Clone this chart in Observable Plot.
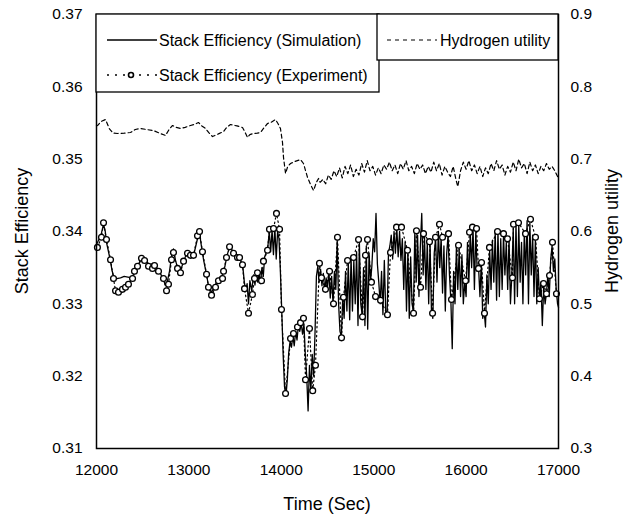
<!DOCTYPE html>
<html><head><meta charset="utf-8">
<script src="https://cdn.jsdelivr.net/npm/d3@7"></script>
<script src="https://cdn.jsdelivr.net/npm/@observablehq/plot@0.6"></script>
<style>body{margin:0;background:#fff}svg{display:block}</style>
</head><body><div id="chart"></div>
<script>
// ---- data (time in s, stack efficiency / hydrogen utility) ----
const simulation = [
[12000,0.3382],[12030,0.3390],[12054,0.3398],[12076,0.3410],[12095,0.3400],[12108,0.3385],[12130,0.3372],[12152,0.3358],[12170,0.3345],[12190,0.3336],
[12220,0.3335],[12260,0.3336],[12300,0.3338],[12340,0.3337],[12380,0.3336],[12411,0.3342],[12444,0.3352],[12470,0.3358],[12487,0.3364],[12520,0.3362],
[12550,0.3357],[12580,0.3354],[12610,0.3356],[12640,0.3352],[12671,0.3346],[12700,0.3340],[12725,0.3333],[12745,0.3326],[12765,0.3330],[12790,0.3345],
[12812,0.3366],[12833,0.3376],[12855,0.3360],[12877,0.3350],[12909,0.3346],[12942,0.3358],[12970,0.3368],[12995,0.3368],[13030,0.3366],[13060,0.3372],
[13093,0.3390],[13115,0.3398],[13135,0.3380],[13160,0.3360],[13191,0.3340],[13212,0.3325],[13245,0.3316],[13270,0.3322],[13300,0.3330],[13330,0.3336],
[13364,0.3340],[13390,0.3352],[13415,0.3368],[13440,0.3378],[13470,0.3374],[13500,0.3368],[13530,0.3366],[13555,0.3360],[13580,0.3356],[13600,0.3330],
[13615,0.3318],[13630,0.3328],[13645,0.3300],[13660,0.3332],[13680,0.3318],[13700,0.3340],[13715,0.3326],[13730,0.3345],[13745,0.3330],[13760,0.3342],
[13775,0.3328],[13790,0.3350],[13805,0.3338],[13820,0.3365],[13840,0.3372],[13855,0.3380],[13870,0.3400],[13885,0.3372],[13900,0.3402],[13915,0.3368],
[13930,0.3405],[13945,0.3362],[13960,0.3400],[13975,0.3390],[13990,0.3345],[14005,0.3290],[14020,0.3230],[14035,0.3185],[14050,0.3172],[14065,0.3195],
[14080,0.3232],[14095,0.3248],[14110,0.3240],[14125,0.3256],[14140,0.3242],[14155,0.3262],[14170,0.3250],[14185,0.3270],[14200,0.3262],[14215,0.3274],
[14230,0.3258],[14245,0.3272],[14260,0.3230],[14275,0.3200],[14290,0.3152],[14305,0.3215],[14320,0.3180],[14335,0.3230],[14350,0.3200],[14365,0.3260],
[14380,0.3338],[14395,0.3352],[14410,0.3330],[14425,0.3348],[14440,0.3325],[14455,0.3342],[14470,0.3318],[14485,0.3336],[14500,0.3322],[14515,0.3346],
[14530,0.3308],[14545,0.3338],[14560,0.3300],[14575,0.3345],[14590,0.3320],[14605,0.3388],[14620,0.3300],[14635,0.3262],[14650,0.3255],[14665,0.3310],
[14680,0.3280],[14695,0.3345],[14710,0.3290],[14725,0.3358],[14740,0.3278],[14755,0.3365],[14770,0.3290],[14785,0.3360],[14800,0.3300],[14815,0.3372],
[14830,0.3270],[14845,0.3385],[14860,0.3300],[14875,0.3285],[14890,0.3350],[14905,0.3270],[14920,0.3380],[14935,0.3265],[14950,0.3370],[14965,0.3330],
[14980,0.3352],[14995,0.3390],[15010,0.3372],[15025,0.3425],[15040,0.3355],[15055,0.3330],[15070,0.3300],[15085,0.3345],[15100,0.3285],[15115,0.3360],
[15130,0.3290],[15145,0.3285],[15160,0.3370],[15175,0.3380],[15190,0.3395],[15205,0.3362],[15220,0.3400],[15235,0.3370],[15250,0.3405],[15265,0.3365],
[15280,0.3400],[15295,0.3360],[15310,0.3390],[15325,0.3320],[15340,0.3385],[15355,0.3290],[15370,0.3372],[15385,0.3280],[15400,0.3365],[15415,0.3300],
[15430,0.3290],[15445,0.3400],[15460,0.3330],[15475,0.3395],[15490,0.3310],[15505,0.3380],[15520,0.3425],[15535,0.3340],[15550,0.3392],[15565,0.3320],
[15580,0.3385],[15595,0.3300],[15610,0.3385],[15625,0.3290],[15640,0.3280],[15655,0.3370],[15670,0.3390],[15685,0.3330],[15700,0.3400],[15715,0.3350],
[15730,0.3392],[15745,0.3315],[15760,0.3380],[15775,0.3290],[15790,0.3370],[15805,0.3395],[15820,0.3340],[15835,0.3305],[15850,0.3238],[15865,0.3345],
[15880,0.3300],[15895,0.3378],[15910,0.3320],[15925,0.3375],[15940,0.3310],[15955,0.3368],[15970,0.3300],[15985,0.3330],[16000,0.3310],[16015,0.3385],
[16030,0.3330],[16045,0.3400],[16060,0.3350],[16075,0.3405],[16090,0.3320],[16105,0.3400],[16120,0.3345],[16135,0.3350],[16150,0.3310],[16165,0.3360],
[16180,0.3280],[16195,0.3290],[16210,0.3268],[16225,0.3340],[16240,0.3300],[16255,0.3375],[16270,0.3320],[16285,0.3388],[16300,0.3330],[16315,0.3400],
[16330,0.3305],[16345,0.3400],[16360,0.3310],[16375,0.3390],[16390,0.3320],[16405,0.3395],[16420,0.3340],[16435,0.3385],[16450,0.3320],[16465,0.3390],
[16480,0.3300],[16495,0.3340],[16510,0.3405],[16525,0.3300],[16540,0.3412],[16555,0.3310],[16570,0.3410],[16585,0.3330],[16600,0.3385],[16615,0.3300],
[16630,0.3400],[16645,0.3340],[16660,0.3415],[16675,0.3300],[16690,0.3412],[16705,0.3340],[16720,0.3395],[16735,0.3310],[16750,0.3390],[16765,0.3300],
[16780,0.3350],[16795,0.3305],[16810,0.3330],[16825,0.3270],[16840,0.3325],[16855,0.3300],[16870,0.3315],[16885,0.3340],[16900,0.3310],[16915,0.3360],
[16930,0.3380],[16945,0.3345],[16960,0.3362],[16975,0.3320],[16990,0.3300],[17000,0.3295]
];
const experiment = [
[12010,0.3378],[12054,0.3392],[12076,0.3412],[12108,0.3389],[12152,0.3361],[12184,0.3335],[12206,0.3318],[12238,0.3316],[12281,0.3320],[12314,0.3323],
[12346,0.3327],[12390,0.3335],[12411,0.3345],[12444,0.3352],[12487,0.3363],[12520,0.3360],[12563,0.3352],[12606,0.3349],[12628,0.3353],[12671,0.3345],
[12725,0.3335],[12758,0.3318],[12779,0.3327],[12812,0.3361],[12833,0.3371],[12877,0.3349],[12909,0.3343],[12942,0.3359],[12985,0.3370],[13017,0.3367],
[13050,0.3367],[13093,0.3394],[13115,0.3400],[13147,0.3372],[13191,0.3341],[13212,0.3323],[13245,0.3312],[13288,0.3323],[13320,0.3332],[13364,0.3335],
[13375,0.3345],[13407,0.3364],[13440,0.3379],[13483,0.3370],[13526,0.3364],[13548,0.3364],[13580,0.3354],[13602,0.3321],[13645,0.3287],[13688,0.3313],
[13710,0.3335],[13742,0.3343],[13786,0.3332],[13807,0.3359],[13851,0.3374],[13872,0.3403],[13916,0.3404],[13948,0.3425],[13981,0.3403],[14002,0.3292],
[14046,0.3176],[14100,0.3252],[14132,0.3259],[14175,0.3268],[14208,0.3274],[14240,0.3280],[14262,0.3195],[14305,0.3266],[14340,0.3180],[14370,0.3215],
[14413,0.3356],[14435,0.3336],[14478,0.3320],[14522,0.3345],[14565,0.3300],[14608,0.3392],[14652,0.3253],[14673,0.3309],[14717,0.3360],[14782,0.3364],
[14836,0.3389],[14879,0.3282],[14911,0.3367],[14933,0.3389],[14976,0.3330],[15020,0.3310],[15074,0.3305],[15149,0.3285],[15182,0.3371],[15247,0.3406],
[15301,0.3406],[15366,0.3374],[15431,0.3287],[15463,0.3401],[15507,0.3323],[15539,0.3397],[15604,0.3386],[15637,0.3287],[15669,0.3392],[15712,0.3410],
[15745,0.3392],[15810,0.3397],[15842,0.3306],[15918,0.3381],[15994,0.3332],[16037,0.3399],[16069,0.3406],[16113,0.3404],[16134,0.3349],[16167,0.3357],
[16199,0.3287],[16253,0.3378],[16340,0.3400],[16405,0.3397],[16448,0.3390],[16502,0.3336],[16513,0.3410],[16567,0.3412],[16643,0.3397],[16697,0.3417],
[16751,0.3392],[16794,0.3307],[16838,0.3328],[16870,0.3314],[16903,0.3339],[16935,0.3385],[16978,0.3314]
];
const hydrogen = [
[12000,0.746],[12011,0.7465],[12050,0.752],[12097,0.7548],[12140,0.742],[12180,0.736],[12227,0.7355],[12300,0.736],[12368,0.7369],[12420,0.741],
[12476,0.7424],[12540,0.741],[12617,0.7396],[12680,0.736],[12747,0.7327],[12790,0.742],[12823,0.7465],[12860,0.744],[12909,0.7424],[12960,0.744],
[13017,0.7465],[13060,0.748],[13104,0.7507],[13140,0.746],[13180,0.7424],[13220,0.736],[13255,0.7313],[13320,0.735],[13375,0.7382],[13410,0.744],
[13450,0.7479],[13520,0.746],[13580,0.7438],[13605,0.738],[13634,0.7300],[13660,0.734],[13699,0.7355],[13740,0.736],[13775,0.7369],[13810,0.743],
[13851,0.7493],[13890,0.751],[13937,0.7548],[13965,0.749],[13991,0.7424],[14013,0.7230],[14024,0.7023],[14046,0.6802],[14070,0.690],[14100,0.6940],
[14150,0.697],[14208,0.6995],[14240,0.6940],[14284,0.6747],[14320,0.664],[14349,0.6567],[14380,0.668],[14403,0.6733],[14420,0.668],[14450,0.672],
[14480,0.666],[14510,0.678],[14540,0.672],[14570,0.684],[14600,0.676],[14630,0.688],[14660,0.674],[14690,0.690],[14720,0.680],[14750,0.692],
[14780,0.676],[14810,0.686],[14840,0.678],[14870,0.694],[14900,0.682],[14930,0.698],[14960,0.684],[14990,0.690],[15020,0.678],[15050,0.688],
[15080,0.680],[15110,0.692],[15140,0.686],[15170,0.696],[15200,0.684],[15230,0.692],[15260,0.680],[15290,0.694],[15320,0.686],[15350,0.698],
[15380,0.684],[15410,0.690],[15440,0.680],[15470,0.694],[15500,0.686],[15530,0.692],[15560,0.680],[15590,0.690],[15620,0.682],[15650,0.696],
[15680,0.684],[15710,0.694],[15740,0.678],[15770,0.690],[15800,0.682],[15830,0.676],[15860,0.690],[15890,0.672],[15910,0.662],[15940,0.684],
[15970,0.696],[16000,0.686],[16030,0.698],[16060,0.684],[16090,0.692],[16120,0.680],[16150,0.690],[16180,0.676],[16210,0.688],[16240,0.680],
[16270,0.694],[16300,0.684],[16330,0.698],[16360,0.686],[16390,0.692],[16420,0.678],[16450,0.690],[16480,0.682],[16510,0.696],[16540,0.684],
[16570,0.700],[16600,0.688],[16630,0.694],[16660,0.680],[16690,0.696],[16720,0.684],[16750,0.692],[16780,0.680],[16810,0.690],[16840,0.684],
[16870,0.694],[16900,0.686],[16930,0.690],[16960,0.684],[16990,0.676],[17000,0.675]
];
const xTicks = [12000, 13000, 14000, 15000, 16000, 17000];
const leftTicks = [0.31, 0.32, 0.33, 0.34, 0.35, 0.36, 0.37];
const rightTicks = [0.3, 0.4, 0.5, 0.6, 0.7, 0.8, 0.9];
const leftDomain = [0.31, 0.37];
const rightDomain = [0.3, 0.9];
const seriesNames = ["Stack Efficiency (Simulation)", "Stack Efficiency (Experiment)", "Hydrogen utility"];

// map right-axis values onto the left scale
const toLeft = h => leftDomain[0] + (h - rightDomain[0]) / (rightDomain[1] - rightDomain[0]) * (leftDomain[1] - leftDomain[0]);
const toRight = v => rightDomain[0] + (v - leftDomain[0]) / (leftDomain[1] - leftDomain[0]) * (rightDomain[1] - rightDomain[0]);

const FONT = "'Liberation Sans', Arial, sans-serif";
const plot = Plot.plot({
  width: 631, height: 521,
  marginLeft: 96, marginRight: 73, marginTop: 14, marginBottom: 73,
  style: {fontFamily: FONT, fontSize: "15px", color: "#000", background: "#fff", overflow: "visible"},
  x: {domain: [12000, 17000]},
  y: {domain: leftDomain},
  marks: [
    Plot.line(hydrogen, {x: d => d[0], y: d => toLeft(d[1]), stroke: "#000", strokeWidth: 1.2, strokeDasharray: "4,3"}),
    Plot.line(experiment, {x: d => d[0], y: d => d[1], stroke: "#000", strokeWidth: 1.2, strokeDasharray: "1.5,3"}),
    Plot.line(simulation, {x: d => d[0], y: d => d[1], stroke: "#000", strokeWidth: 1.3}),
    Plot.dot(experiment, {x: d => d[0], y: d => d[1], r: 2.9, fill: "#fff", stroke: "#000", strokeWidth: 1.3}),
    Plot.frame({stroke: "#000", strokeWidth: 1.5}),
    Plot.axisX(xTicks, {tickSize: 0, tickPadding: 15, tickFormat: d => String(d), label: null, fontSize: 15.5}),
    Plot.axisY(leftTicks, {anchor: "left", tickSize: 0, tickPadding: 14, tickFormat: d => d.toFixed(2), label: null, fontSize: 15.5}),
    Plot.axisY(rightTicks.map(toLeft), {anchor: "right", tickSize: 0, tickPadding: 12, tickFormat: d => toRight(d).toFixed(1), label: null, fontSize: 15.5})
  ]
});
document.getElementById("chart").appendChild(plot);

// axis titles and legend
const svg = d3.select(plot);
const g = svg.append("g").attr("font-family", FONT).attr("fill", "#000");
g.append("text").attr("transform", "translate(22,231) rotate(-90)").attr("text-anchor", "middle").attr("dy", "0.35em").attr("font-size", 18).text("Stack Efficiency");
g.append("text").attr("transform", "translate(612,231) rotate(-90)").attr("text-anchor", "middle").attr("dy", "0.35em").attr("font-size", 18).text("Hydrogen utility");
g.append("text").attr("x", 327).attr("y", 504).attr("text-anchor", "middle").attr("dy", "0.35em").attr("font-size", 18).text("Time (Sec)");

const L = g.append("g").attr("font-size", 16).attr("text-anchor", "start");
L.append("rect").attr("x", 96).attr("y", 14).attr("width", 283).attr("height", 78).attr("fill", "#fff").attr("stroke", "#000").attr("stroke-width", 1.3);
L.append("rect").attr("x", 377).attr("y", 14).attr("width", 181).attr("height", 46).attr("fill", "#fff").attr("stroke", "#000").attr("stroke-width", 1.3);
L.append("line").attr("x1", 107).attr("x2", 157).attr("y1", 40).attr("y2", 40).attr("stroke", "#000").attr("stroke-width", 1.3);
L.append("text").attr("x", 159).attr("y", 40).attr("dy", "0.35em").attr("text-anchor", "start").text(seriesNames[0]);
L.append("line").attr("x1", 107).attr("x2", 157).attr("y1", 75).attr("y2", 75).attr("stroke", "#000").attr("stroke-width", 1.4).attr("stroke-dasharray", "2,6");
L.append("circle").attr("cx", 131).attr("cy", 75).attr("r", 2.5).attr("fill", "#fff").attr("stroke", "#000").attr("stroke-width", 1.6);
L.append("text").attr("x", 159).attr("y", 75).attr("dy", "0.35em").attr("text-anchor", "start").text(seriesNames[1]);
L.append("line").attr("x1", 387).attr("x2", 437).attr("y1", 40).attr("y2", 40).attr("stroke", "#000").attr("stroke-width", 1.2).attr("stroke-dasharray", "4,4");
L.append("text").attr("x", 440).attr("y", 40).attr("dy", "0.35em").attr("text-anchor", "start").text(seriesNames[2]);
</script>
</body></html>
